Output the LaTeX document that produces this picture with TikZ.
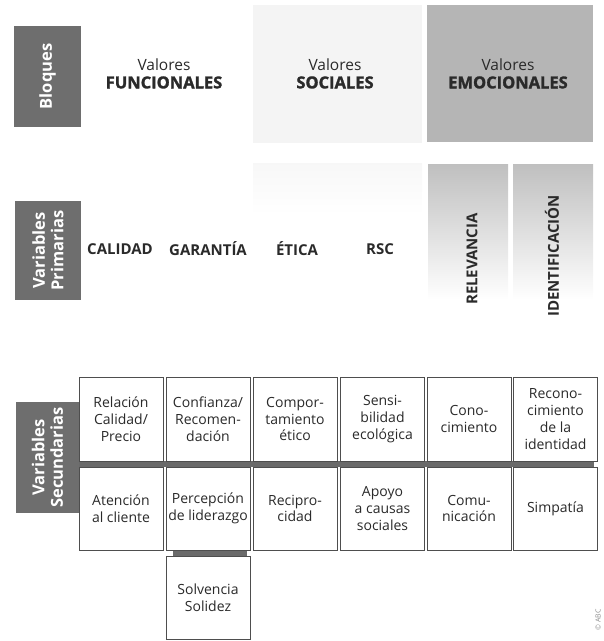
\documentclass[tikz,border=0pt]{standalone}
\usepackage{fontspec}
\setmainfont{Open Sans}
\newfontfamily\heavyfont[FakeBold=1.6]{Open Sans Bold}
\usetikzlibrary{positioning}
\definecolor{labgray}{HTML}{6E6E6E}
\definecolor{emogray}{HTML}{B5B5B5}
\definecolor{socgray}{HTML}{F4F4F4}
\definecolor{txtgray}{HTML}{2A2A2A}
\definecolor{boxline}{HTML}{4E4E4E}
\definecolor{stripgray}{HTML}{6A6A6A}
\tikzset{
  lab/.style={fill=labgray, text=white, rotate=90, inner sep=0pt, align=center,
    font=\fontsize{16.5}{18.5}\selectfont\bfseries},
  valores/.style={text=txtgray, inner sep=0pt, align=center},
  prim/.style={text=txtgray, inner sep=0pt, font=\fontsize{15}{17}\selectfont\bfseries},
  emoprim/.style={prim, rotate=90},
  vbox/.style={draw=boxline, line width=0.8pt, fill=white, minimum width=84pt, minimum height=84pt,
    inner sep=1pt, align=center, text=txtgray, font=\fontsize{14}{16.8}\selectfont},
}
\newcommand{\valtxt}[1]{{\fontsize{15.5}{17}\selectfont Valores}\\[5pt]{\fontsize{16.5}{18}\selectfont\heavyfont #1}}
\begin{document}
\begin{tikzpicture}[x=1pt,y=-1pt]
\useasboundingbox (0,0) rectangle (604,641);
% background blocks
\fill[socgray] (253,5) rectangle (422,143);
\shade[top color=black!3, bottom color=white] (253,163) rectangle (422,215);
\fill[emogray] (427,5) rectangle (593,142);
\shade[top color=black!25, bottom color=white] (428,164) rectangle (508,300);
\shade[top color=black!25, bottom color=white] (513,164) rectangle (593,300);
% row labels
\node[lab, minimum width=101pt, minimum height=67pt] (bloques) at (47.5,76.5) {Bloques};
\node[lab, minimum width=99pt, minimum height=66pt] (vprim) at (48,250.5) {Variables\\Primarias};
\node[lab, minimum width=111pt, minimum height=63pt] (vsec) at (47.5,457.5) {Variables\\Secundarias};
% bloques
\node[valores] (vfun) at (164,73.5) {\valtxt{FUNCIONALES}};
\node[valores] (vsoc) at (335,73.5) {\valtxt{SOCIALES}};
\node[valores] (vemo) at (508,73.5) {\valtxt{EMOCIONALES}};
% primarias
\node[prim] (calidad) at (120,249) {CALIDAD};
\node[prim] (garantia) at (208,249) {GARANTÍA};
\node[prim] (etica) at (297,249) {ÉTICA};
\node[prim] (rsc) at (380,249) {RSC};
\node[emoprim] (relev) at (472,259) {RELEVANCIA};
\node[emoprim] (ident) at (552,256) {IDENTIFICACIÓN};
% strips
\fill[stripgray] (79,461) rectangle (594,467);
\fill[stripgray] (173,550) rectangle (247,556);
% secundarias row 1
\node[vbox] (b11) at (121,419) {Relación\\Calidad/\\Precio};
\node[vbox] (b12) at (208,419) {Confianza/\\Recomen-\\dación};
\node[vbox] (b13) at (295,419) {Compor-\\tamiento\\ético};
\node[vbox] (b14) at (382.5,419) {Sensi-\\bilidad\\ecológica};
\node[vbox] (b15) at (469,419) {Cono-\\cimiento};
\node[vbox] (b16) at (555.5,419) {Recono-\\cimiento\\de la\\identidad};
% row 2
\node[vbox, minimum height=83pt] (b21) at (121,508.5) {Atención\\al cliente};
\node[vbox, minimum height=83pt] (b22) at (208,508.5) {Percepción\\de liderazgo};
\node[vbox, minimum height=83pt] (b23) at (295,508.5) {Recipro-\\cidad};
\node[vbox, minimum height=83pt] (b24) at (382.5,508.5) {Apoyo\\a causas\\sociales};
\node[vbox, minimum height=83pt] (b25) at (469,508.5) {Comu-\\nicación};
\node[vbox, minimum height=83pt] (b26) at (555.5,508.5) {Simpatía};
% row 3
\node[vbox, minimum height=83pt] (b32) at (208,597.5) {Solvencia\\Solidez};
% credit
\node[rotate=90, text=black!45, inner sep=0pt, font=\fontsize{7}{8}\selectfont] (credit) at (598,620) {© ABC};
\end{tikzpicture}
\end{document}
